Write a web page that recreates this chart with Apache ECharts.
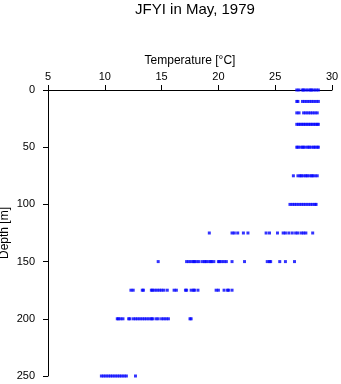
<!DOCTYPE html>
<html>
<head>
<meta charset="utf-8">
<script src="https://cdn.jsdelivr.net/npm/echarts@6/dist/echarts.min.js"></script>
<style>
  html, body { margin: 0; padding: 0; background: #fff; }
  #chart { width: 341px; height: 384px; }
</style>
</head>
<body>
<div id="chart"></div>
<script>
// Sampling depths (m) and the temperatures (°C) measured at each depth
const depths = [0, 10, 20, 30, 50, 75, 100, 125, 150, 175, 200, 250];

const temps0   = [26.9, 27.1, 27.4, 27.5, 27.7, 27.9, 28.1, 28.2, 28.4, 28.6, 28.8];
const temps10  = [26.9, 27.0, 27.4, 27.6, 27.8, 28.0, 28.2, 28.4, 28.6, 28.8];
const temps20  = [26.9, 27.1, 27.5, 27.7, 27.9, 28.1, 28.3, 28.5, 28.7];
const temps30  = [26.9, 27.05, 27.2, 27.35, 27.5, 27.65, 27.8, 27.95, 28.1, 28.25, 28.4, 28.55, 28.7, 28.8];
const temps50  = [26.9, 27.0, 27.2, 27.4, 27.5, 27.7, 27.9, 28.0, 28.2, 28.4, 28.5, 28.7, 28.8];
const temps75  = [26.6, 27.0, 27.2, 27.3, 27.5, 27.7, 27.8, 28.0, 28.2, 28.3, 28.5, 28.7];
const temps100 = [26.3, 26.5, 26.7, 26.9, 27.1, 27.3, 27.5, 27.7, 27.9, 28.1, 28.3, 28.5, 28.6];
const temps125 = [19.2, 21.2, 21.4, 21.7, 22.2, 22.6, 24.2, 24.5, 25.2, 25.7, 25.9, 26.2, 26.5, 26.8, 27.0, 27.3, 27.5, 27.7, 28.3];
const temps150 = [14.7, 17.2, 17.4, 17.6, 17.8, 17.9, 18.1, 18.3, 18.6, 18.8, 18.9, 19.1, 19.3, 19.4, 19.6, 20.0, 20.1, 20.3, 20.5, 20.7, 21.2, 22.3, 24.3, 24.5, 24.6, 25.4, 25.9, 26.7];
const temps175 = [12.3, 12.5, 13.3, 13.4, 14.1, 14.2, 14.4, 14.6, 14.8, 15.0, 15.2, 15.5, 16.1, 16.3, 17.1, 17.2, 17.6, 17.8, 17.9, 18.2, 19.8, 20.0, 20.5, 20.8, 20.9, 21.2];
const temps200 = [11.1, 11.2, 11.4, 11.6, 12.1, 12.2, 12.5, 12.7, 12.9, 13.1, 13.3, 13.5, 13.7, 13.9, 14.1, 14.2, 14.5, 14.7, 15.0, 15.2, 15.4, 15.6, 17.5, 17.6];
const temps250 = [9.7, 9.9, 10.1, 10.3, 10.5, 10.7, 10.9, 11.1, 11.3, 11.5, 11.7, 11.9, 12.7];

const tempsByDepth = [temps0, temps10, temps20, temps30, temps50, temps75, temps100,
                      temps125, temps150, temps175, temps200, temps250];

// [temperature, depth] pairs for the scatter series
const points = [];
depths.forEach((d, i) => tempsByDepth[i].forEach(t => points.push([t, d])));

const font = '"Liberation Sans", Arial, Helvetica, sans-serif';
const chart = echarts.init(document.getElementById('chart'), null, { renderer: 'canvas' });

chart.setOption({
  animation: false,
  backgroundColor: '#ffffff',
  title: {
    text: 'JFYI in May, 1979',
    left: 190, top: -3, textAlign: 'center',
    textStyle: { fontFamily: font, fontSize: 15, fontWeight: 'normal', color: '#000' }
  },
  grid: { left: 48, top: 90, width: 284, height: 286, containLabel: false, outerBoundsMode: 'none' },
  xAxis: {
    type: 'value', position: 'top',
    min: 5, max: 30, interval: 5,
    name: 'Temperature [°C]', nameLocation: 'middle', nameGap: 23, nameMoveOverlap: false,
    nameTextStyle: { fontFamily: font, fontSize: 12, color: '#000' },
    axisLine: { show: true, onZero: false, lineStyle: { color: '#000', width: 1 } },
    axisTick: { show: true, length: 5, lineStyle: { color: '#000' } },
    axisLabel: { fontFamily: font, fontSize: 11, color: '#000', margin: 8 },
    splitLine: { show: false }
  },
  yAxis: {
    type: 'value', inverse: true, position: 'left',
    min: 0, max: 250, interval: 50,
    name: 'Depth [m]', nameLocation: 'middle', nameGap: 37, nameRotate: 90, nameMoveOverlap: false,
    nameTextStyle: { fontFamily: font, fontSize: 12, color: '#000' },
    axisLine: { show: true, onZero: false, lineStyle: { color: '#000', width: 1 } },
    axisTick: { show: true, length: 5, lineStyle: { color: '#000' } },
    axisLabel: { fontFamily: font, fontSize: 11, color: '#000', margin: 13 },
    splitLine: { show: false }
  },
  series: [{
    type: 'scatter',
    data: points,
    symbol: 'rect',
    symbolSize: [3, 3],
    itemStyle: { color: '#0000ff' },
    silent: true
  }]
});
</script>
</body>
</html>
